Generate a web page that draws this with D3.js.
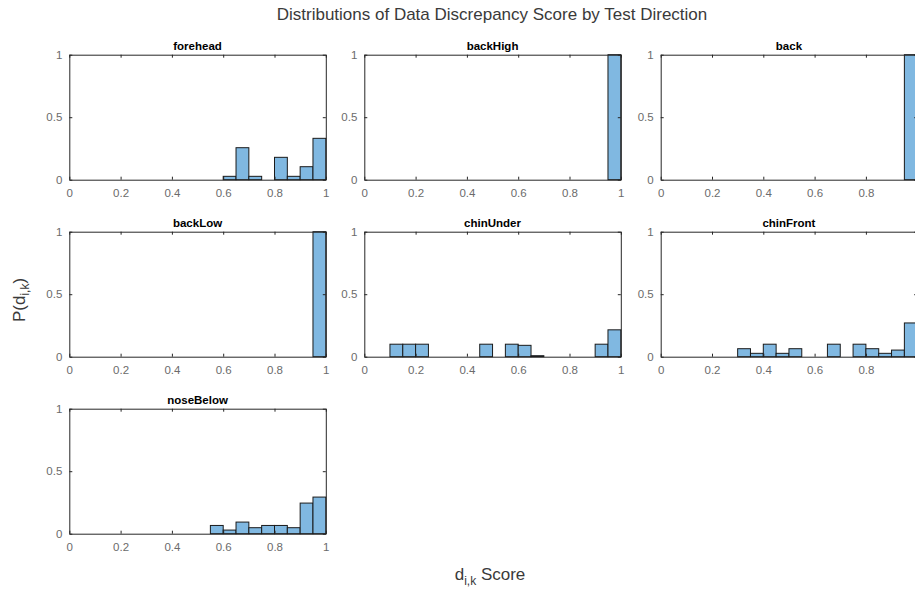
<!DOCTYPE html>
<html>
<head>
<meta charset="utf-8">
<script src="https://cdn.jsdelivr.net/npm/d3@7"></script>
<style>
html,body{margin:0;padding:0;background:#fff;overflow:hidden;}
svg{display:block;font-family:"Liberation Sans",Arial,Helvetica,sans-serif;}
</style>
</head>
<body>
<svg id="chart" width="915" height="596"></svg>
<script>
// ---- data ----
const panels = ["forehead","backHigh","back","backLow","chinUnder","chinFront","noseBelow"];
const binEdges = [0,0.05,0.1,0.15,0.2,0.25,0.3,0.35,0.4,0.45,0.5,0.55,0.6,0.65,0.7,0.75,0.8,0.85,0.9,0.95,1.0];
const forehead  = [0,0,0,0,0,0,0,0,0,0,0,0,0.027,0.256,0.027,0,0.179,0.027,0.104,0.331];
const backHigh  = [0,0,0,0,0,0,0,0,0,0,0,0,0,0,0,0,0,0,0,1];
const back      = [0,0,0,0,0,0,0,0,0,0,0,0,0,0,0,0,0,0,0,1];
const backLow   = [0,0,0,0,0,0,0,0,0,0,0,0,0,0,0,0,0,0,0,1];
const chinUnder = [0,0,0.10,0.10,0.10,0,0,0,0,0.10,0,0.10,0.091,0.008,0,0,0,0,0.10,0.215];
const chinFront = [0,0,0,0,0,0,0.064,0.027,0.10,0.027,0.064,0,0,0.10,0,0.10,0.064,0.027,0.053,0.27];
const noseBelow = [0,0,0,0,0,0,0,0,0,0,0,0.066,0.029,0.093,0.048,0.066,0.066,0.048,0.245,0.293];
const seriesValues = [forehead,backHigh,back,backLow,chinUnder,chinFront,noseBelow];
const xTicks = [0,0.2,0.4,0.6,0.8,1];
const yTicks = [0,0.5,1];
const xTickLabels = ["0","0.2","0.4","0.6","0.8","1"];
const yTickLabels = ["0","0.5","1"];

// ---- layout ----
const W = 915;
const svg = d3.select("#chart");
const colLeft = [69.3, 364.3, 660.7];
const rowTop = [54.7, 231.7, 408.7];
const axW = 256.5, axH = 125;
const barFill = "#80b8e1", axisColor = "#262626", tickText = "#6b6b6b";

svg.append("text").attr("x", 492).attr("y", 20).attr("text-anchor","middle")
  .attr("font-size", 17).attr("fill", "#3a3a3a")
  .text("Distributions of Data Discrepancy Score by Test Direction");

panels.forEach((name, i) => {
  const c = i % 3, r = Math.floor(i / 3);
  const x = d3.scaleLinear().domain([0,1]).range([0, axW]);
  const y = d3.scaleLinear().domain([0,1]).range([axH, 0]);
  const g = svg.append("g").attr("transform", `translate(${colLeft[c]},${rowTop[r]})`);

  // bars
  const vals = seriesValues[i];
  const bins = vals.map((v, k) => ({x0: binEdges[k], x1: binEdges[k+1], v}))
                   .filter(b => b.v > 0);
  g.selectAll("rect.bar").data(bins).enter().append("rect")
    .attr("class","bar")
    .attr("x", d => x(d.x0)).attr("width", d => x(d.x1) - x(d.x0))
    .attr("y", d => y(d.v)).attr("height", d => y(0) - y(d.v))
    .attr("fill", barFill).attr("stroke", "#1a1a1a").attr("stroke-width", 1);

  // axes (ticks inward); x tick labels that fall past the window edge are not drawn (as in the reference)
  const fmtX = d => (colLeft[c] + x(d) + 4 > W) ? "" : xTickLabels[xTicks.indexOf(d)];
  const fmtY = d => yTickLabels[yTicks.indexOf(d)];
  const bottom = g.append("g").attr("transform", `translate(0,${axH})`)
    .call(d3.axisBottom(x).tickValues(xTicks).tickFormat(fmtX).tickSizeInner(-3).tickSizeOuter(0).tickPadding(9));
  const top = g.append("g")
    .call(d3.axisTop(x).tickValues(xTicks).tickFormat("").tickSizeInner(-3).tickSizeOuter(0));
  const left = g.append("g")
    .call(d3.axisLeft(y).tickValues(yTicks).tickFormat(fmtY).tickSizeInner(-3).tickSizeOuter(0).tickPadding(7));
  const right = g.append("g").attr("transform", `translate(${axW},0)`)
    .call(d3.axisRight(y).tickValues(yTicks).tickFormat("").tickSizeInner(-3).tickSizeOuter(0));
  [bottom, top, left, right].forEach(a => {
    a.select(".domain").attr("stroke", axisColor).attr("stroke-width", 1);
    a.selectAll(".tick line").attr("stroke", axisColor);
    a.selectAll(".tick text").attr("fill", tickText).attr("font-size", 11.5)
      .attr("font-family", '"Liberation Sans",Arial,sans-serif');
  });

  g.append("text").attr("x", axW/2).attr("y", -5).attr("text-anchor","middle")
    .attr("font-size", 11.5).attr("font-weight","bold").attr("fill","#000")
    .text(name);
});

// y label
const yl = svg.append("text").attr("transform","translate(25,300) rotate(-90)")
  .attr("text-anchor","middle").attr("font-size",17).attr("fill","#3a3a3a");
yl.append("tspan").text("P(d");
yl.append("tspan").attr("font-size",12).attr("dy",4).text("i,k");
yl.append("tspan").attr("dy",-4).text(")");

// x label
const xl = svg.append("text").attr("x", 490).attr("y", 580)
  .attr("text-anchor","middle").attr("font-size",17).attr("fill","#3a3a3a");
xl.append("tspan").text("d");
xl.append("tspan").attr("font-size",12).attr("dy",5).text("i,k");
xl.append("tspan").attr("dy",-5).text(" Score");
</script>
</body>
</html>
